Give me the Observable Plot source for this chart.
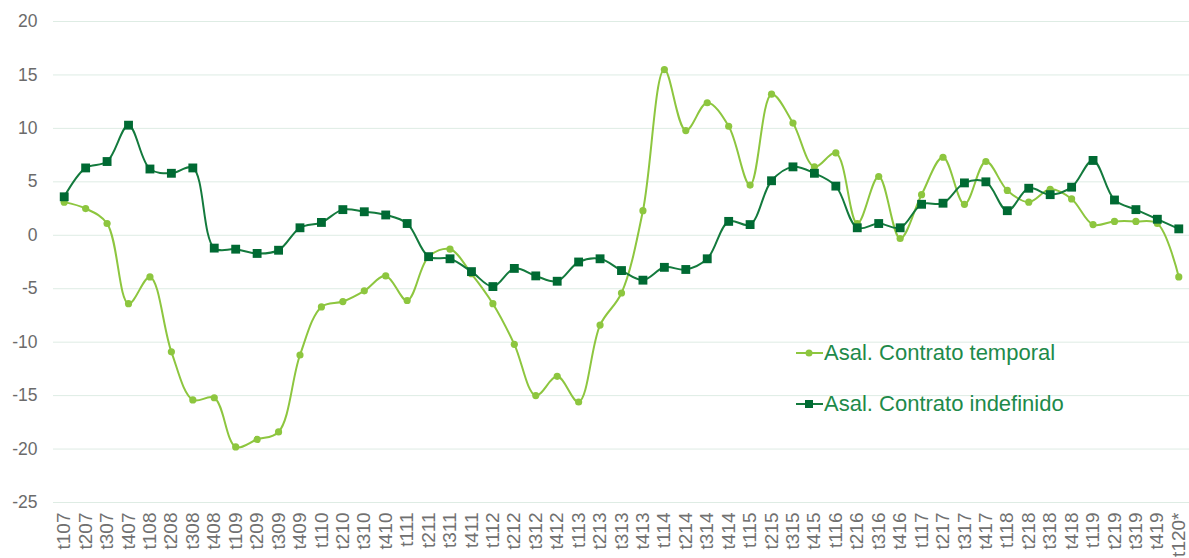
<!DOCTYPE html>
<html>
<head>
<meta charset="utf-8">
<script src="https://cdn.jsdelivr.net/npm/d3@7"></script>
<script src="https://cdn.jsdelivr.net/npm/@observablehq/plot@0.6"></script>
<style>
  html, body { margin: 0; padding: 0; background: #fff; }
  #wrap { position: relative; width: 1189px; height: 558px; overflow: hidden; font-family: "Liberation Sans", Arial, sans-serif; }
  #legend { position: absolute; left: 796px; top: 327px; color: #1e8a4a; font-size: 22px; line-height: 51px; }
  #legend .item { display: flex; align-items: center; white-space: nowrap; }
  #legend svg { margin-right: 1px; }
</style>
</head>
<body>
<div id="wrap"><div id="chart"></div><div id="legend"></div></div>
<script>
const periods = ["t107","t207","t307","t407","t108","t208","t308","t408","t109","t209","t309","t409",
  "t110","t210","t310","t410","t111","t211","t311","t411","t112","t212","t312","t412",
  "t113","t213","t313","t413","t114","t214","t314","t414","t115","t215","t315","t415",
  "t116","t216","t316","t416","t117","t217","t317","t417","t118","t218","t318","t418",
  "t119","t219","t319","t419","t120*"];

const temporal = [3.1, 2.5, 1.1, -6.4, -3.9, -10.9, -15.4, -15.2, -19.8, -19.1, -18.4, -11.2,
  -6.7, -6.2, -5.2, -3.8, -6.1, -2.0, -1.3, -3.6, -6.4, -10.2, -15.0, -13.2,
  -15.6, -8.4, -5.4, 2.3, 15.5, 9.8, 12.4, 10.2, 4.7, 13.2, 10.5, 6.4,
  7.7, 1.1, 5.5, -0.3, 3.8, 7.3, 2.9, 6.9, 4.2, 3.1, 4.3, 3.4,
  1.0, 1.3, 1.3, 1.1, -3.9];

const indefinido = [3.6, 6.3, 6.9, 10.3, 6.2, 5.8, 6.3, -1.2, -1.3, -1.7, -1.4, 0.7,
  1.2, 2.4, 2.2, 1.9, 1.1, -2.0, -2.2, -3.4, -4.8, -3.1, -3.8, -4.3,
  -2.5, -2.2, -3.3, -4.2, -3.0, -3.2, -2.2, 1.3, 1.0, 5.1, 6.4, 5.8,
  4.6, 0.7, 1.1, 0.7, 2.9, 3.0, 4.9, 5.0, 2.3, 4.4, 3.8, 4.5,
  7.0, 3.3, 2.4, 1.5, 0.6];

const seriesNames = ["Asal. Contrato temporal", "Asal. Contrato indefinido"];
const yTicks = [-25, -20, -15, -10, -5, 0, 5, 10, 15, 20];

const lightGreen = "#8dc63f";
const darkLine = "#137a3d";
const darkMark = "#006a33";

const tData = periods.map((p, i) => ({period: p, value: temporal[i]}));
const iData = periods.map((p, i) => ({period: p, value: indefinido[i]}));

const chart = Plot.plot({
  width: 1189,
  height: 558,
  marginLeft: 53,
  marginRight: 0,
  marginTop: 21,
  marginBottom: 56,
  style: {fontFamily: "'Liberation Sans', Arial, sans-serif", fontSize: "17px", color: "#6b6b6b", background: "#fff"},
  x: {type: "point", domain: periods, padding: 0.5, round: false, label: null},
  y: {domain: [-25, 20], label: null},
  marks: [
    Plot.ruleY(yTicks, {stroke: "#deece4", strokeWidth: 1}),
    Plot.axisY({ticks: yTicks, tickFormat: d => String(d), tickSize: 0, tickPadding: 16, fontSize: 17.5, fill: "#6b6b6b", label: null}),
    Plot.axisX({tickRotate: -90, tickSize: 0, tickPadding: 10, fontSize: 19, fill: "#707070", label: null}),
    Plot.line(tData, {x: "period", y: "value", stroke: lightGreen, strokeWidth: 2, curve: "catmull-rom"}),
    Plot.dot(tData, {x: "period", y: "value", fill: lightGreen, r: 3.6, symbol: "circle"}),
    Plot.line(iData, {x: "period", y: "value", stroke: darkLine, strokeWidth: 2, curve: "catmull-rom"}),
    Plot.dot(iData, {x: "period", y: "value", fill: darkMark, r: 5, symbol: "square"})
  ]
});
document.getElementById("chart").appendChild(chart);

// Legend
const legend = document.getElementById("legend");
const legendStyles = [
  {line: lightGreen, mark: lightGreen, shape: "circle"},
  {line: darkLine, mark: darkMark, shape: "square"}
];
seriesNames.forEach((name, i) => {
  const item = document.createElement("div");
  item.className = "item";
  const s = legendStyles[i];
  const markSvg = s.shape === "circle"
    ? `<circle cx="13" cy="8" r="3.5" fill="${s.mark}"/>`
    : `<rect x="9" y="4" width="8" height="8" fill="${s.mark}"/>`;
  item.innerHTML = `<svg width="27" height="16"><line x1="0" y1="8" x2="27" y2="8" stroke="${s.line}" stroke-width="2"/>${markSvg}</svg><span>${name}</span>`;
  legend.appendChild(item);
});
</script>
</body>
</html>
